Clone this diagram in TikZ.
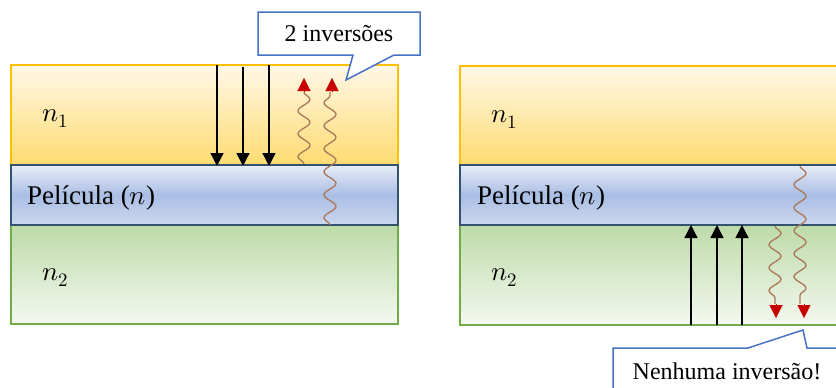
\documentclass[tikz,border=0pt]{standalone}
\usepackage{fontspec}
\usepackage{unicode-math}
\setmainfont{Liberation Serif}
\setmathfont{Latin Modern Math}
\usetikzlibrary{arrows.meta,decorations.pathmorphing}
\definecolor{yelA}{RGB}{255,248,232}
\definecolor{yelB}{RGB}{255,219,112}
\definecolor{yelLine}{RGB}{255,192,0}
\definecolor{bluA}{RGB}{232,237,248}
\definecolor{bluM}{RGB}{170,190,228}
\definecolor{bluB}{RGB}{204,215,238}
\definecolor{bluLine}{RGB}{50,82,112}
\definecolor{grnA}{RGB}{189,219,168}
\definecolor{grnB}{RGB}{244,248,240}
\definecolor{grnLine}{RGB}{112,173,71}
\definecolor{waveC}{RGB}{170,120,90}
\definecolor{tipRed}{RGB}{200,0,0}
\definecolor{callLine}{RGB}{68,114,196}
\begin{document}
\begin{tikzpicture}[x=1pt,y=-1pt,
  yellayer/.style={top color=yelA,bottom color=yelB,draw=yelLine,line width=1.6pt},
  blulayer/.style={top color=bluA,bottom color=bluB,middle color=bluM,draw=bluLine,line width=2pt},
  grnlayer/.style={top color=grnA,bottom color=grnB,draw=grnLine,line width=1.6pt},
  ray/.style={black,line width=1.3pt,-{Triangle[width=13pt,length=13pt]}},
  wave/.style={waveC,line width=1.3pt,decorate,decoration={snake,amplitude=6pt,segment length=23pt}},
  redtip/.style={tipRed,line width=0.1pt,-{Triangle[width=13pt,length=13pt]}},
  callout/.style={fill=white,draw=callLine,line width=1.5pt,line join=miter},
  lbl/.style={font=\fontsize{27}{30}\selectfont,inner sep=0pt},
  mlbl/.style={font=\fontsize{27}{30}\selectfont,inner sep=0pt},
  ctext/.style={font=\fontsize{24}{28}\selectfont,inner sep=0pt}]
\useasboundingbox (0,0) rectangle (836,388);
\clip (0,0) rectangle (836,388);
% ---------- left panel ----------
\shadedraw[yellayer] (11,65) rectangle (398,165);
\shadedraw[grnlayer] (11,225) rectangle (398,324);
\shadedraw[blulayer] (11,165) rectangle (398,225);
\node[mlbl,anchor=base west] (ln1) at (42,121) {$n_1$};
\node[mlbl,anchor=base west] (ln2) at (42,280) {$n_2$};
\node[lbl,anchor=base west] (lfilm) at (27,204) {Película ($n$)};
\coordinate (la1) at (217,65); \coordinate (lb1) at (217,166);
\coordinate (la2) at (243,67); \coordinate (lb2) at (243,166);
\coordinate (la3) at (269,65); \coordinate (lb3) at (269,166);
\draw[ray] (la1) -- (lb1);
\draw[ray] (la2) -- (lb2);
\draw[ray] (la3) -- (lb3);
\coordinate (lw1s) at (304,164); \coordinate (lw1e) at (304,92); \coordinate (lw1t) at (304,78);
\coordinate (lw2s) at (330,225); \coordinate (lw2e) at (330,92); \coordinate (lw2t) at (332,78);
\draw[wave] (lw1s) -- (lw1e);
\draw[wave] (lw2s) -- (lw2e);
\draw[redtip] (lw1e) -- (lw1t);
\draw[redtip] ([xshift=2pt]lw2e) -- (lw2t);
% ---------- right panel ----------
\shadedraw[yellayer] (460,66) rectangle (850,165);
\shadedraw[grnlayer] (460,225) rectangle (850,325);
\shadedraw[blulayer] (460,165) rectangle (850,225);
\node[mlbl,anchor=base west] (rn1) at (491,122) {$n_1$};
\node[mlbl,anchor=base west] (rn2) at (491,280) {$n_2$};
\node[lbl,anchor=base west] (rfilm) at (477,204) {Película ($n$)};
\coordinate (ra1) at (691,325); \coordinate (rb1) at (691,225);
\coordinate (ra2) at (717,325); \coordinate (rb2) at (717,225);
\coordinate (ra3) at (742,325); \coordinate (rb3) at (742,225);
\draw[ray] (ra1) -- (rb1);
\draw[ray] (ra2) -- (rb2);
\draw[ray] (ra3) -- (rb3);
\coordinate (rw1s) at (775,226); \coordinate (rw1e) at (775,304); \coordinate (rw1t) at (776,318);
\coordinate (rw2s) at (800,166); \coordinate (rw2e) at (800,304); \coordinate (rw2t) at (804,318);
\draw[wave] (rw1s) -- (rw1e);
\draw[wave] (rw2s) -- (rw2e);
\draw[redtip] ([xshift=1pt]rw1e) -- (rw1t);
\draw[redtip] ([xshift=4pt]rw2e) -- (rw2t);
% ---------- callouts ----------
\draw[callout] (258,12) -- (420,12) -- (420,55) -- (394,55) -- (346,80) -- (353,55) -- (258,55) -- cycle;
\node[ctext] (c1) at (339,34) {2 inversões};
\draw[callout] (613,400) -- (613,348) -- (748,348) -- (803,330) -- (807,348) -- (850,348) -- (850,400) -- cycle;
\node[ctext,anchor=base] (c2) at (727,379) {Nenhuma inversão!};
\end{tikzpicture}
\end{document}
